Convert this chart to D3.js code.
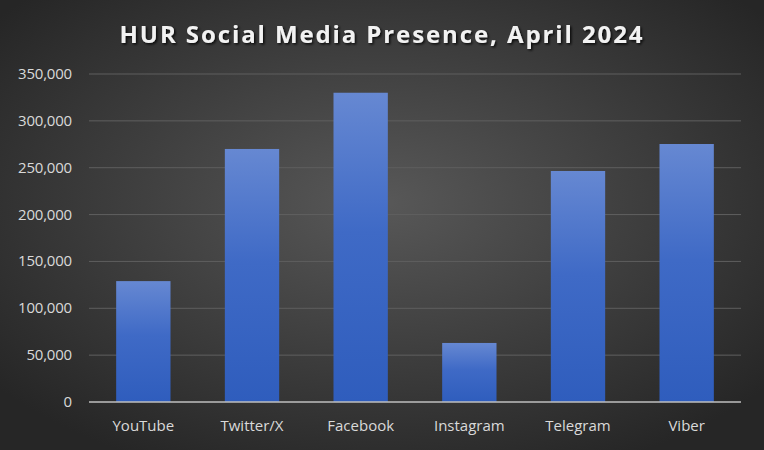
<!DOCTYPE html>
<html>
<head>
<meta charset="utf-8">
<script src="https://cdn.jsdelivr.net/npm/d3@7"></script>
<style>
  body { margin: 0; background: #333; }
  svg { display: block; }
</style>
</head>
<body>
<svg id="chart" width="764" height="450"></svg>
<script>
const platforms = ["YouTube", "Twitter/X", "Facebook", "Instagram", "Telegram", "Viber"];
const followers = [129000, 270000, 330000, 63000, 246500, 275300];
const yTicks = [0, 50000, 100000, 150000, 200000, 250000, 300000, 350000];

const svg = d3.select("#chart");
const W = 764, H = 450;
const m = { top: 74, right: 23, bottom: 48, left: 89 };

const defs = svg.append("defs");
const bg = defs.append("radialGradient").attr("id", "bg")
   .attr("cx", "50%").attr("cy", "45%").attr("r", "65%");
bg.append("stop").attr("offset", "0%").attr("stop-color", "#585858");
bg.append("stop").attr("offset", "100%").attr("stop-color", "#262626");

const barGrad = defs.append("linearGradient").attr("id", "bar")
   .attr("x1", 0).attr("y1", 0).attr("x2", 0).attr("y2", 1);
barGrad.append("stop").attr("offset", "0%").attr("stop-color", "#6688d2");
barGrad.append("stop").attr("offset", "45%").attr("stop-color", "#3f6ac6");
barGrad.append("stop").attr("offset", "100%").attr("stop-color", "#2f5dbd");

const shadow = defs.append("filter").attr("id", "shadow")
   .attr("x", "-10%").attr("y", "-30%").attr("width", "120%").attr("height", "160%");
shadow.append("feDropShadow").attr("dx", 1.5).attr("dy", 1.5).attr("stdDeviation", 1.2)
   .attr("flood-color", "#000").attr("flood-opacity", 0.8);

svg.append("rect").attr("width", W).attr("height", H).attr("fill", "url(#bg)");

const x = d3.scaleBand().domain(platforms).range([m.left, W - m.right]).paddingInner(0.5).paddingOuter(0.25);
const y = d3.scaleLinear().domain([0, 350000]).range([H - m.bottom, m.top]);

// gridlines
svg.append("g").selectAll("line").data(yTicks.slice(1)).join("line")
   .attr("x1", m.left).attr("x2", W - m.right)
   .attr("y1", d => y(d)).attr("y2", d => y(d))
   .attr("stroke", "#5f5f5f").attr("stroke-width", 1);

// y labels
const fmt = d3.format(",");
svg.append("g").selectAll("text").data(yTicks).join("text")
   .attr("x", 72).attr("y", d => y(d) + 5)
   .attr("text-anchor", "end")
   .attr("fill", "#d9d9d9")
   .style("font", "15px 'Open Sans', sans-serif")
   .style("letter-spacing", "-0.2px")
   .text(d => fmt(d));

// bars
svg.append("g").selectAll("rect").data(platforms).join("rect")
   .attr("x", d => x(d))
   .attr("y", (d, i) => y(followers[i]))
   .attr("width", x.bandwidth())
   .attr("height", (d, i) => y(0) - y(followers[i]))
   .attr("fill", "url(#bar)");

// x axis line
svg.append("line")
   .attr("x1", m.left).attr("x2", W - m.right)
   .attr("y1", y(0)).attr("y2", y(0))
   .attr("stroke", "#bfbfbf").attr("stroke-width", 1.5);

// x labels
svg.append("g").selectAll("text").data(platforms).join("text")
   .attr("x", d => x(d) + x.bandwidth() / 2)
   .attr("y", 431)
   .attr("text-anchor", "middle")
   .attr("fill", "#d9d9d9")
   .style("font", "15px 'Open Sans', sans-serif")
   .text(d => d);

// title
svg.append("text")
   .attr("x", 382).attr("y", 43)
   .attr("text-anchor", "middle")
   .attr("fill", "#f2f2f2")
   .attr("filter", "url(#shadow)")
   .style("font", "bold 24px 'Open Sans', sans-serif")
   .style("letter-spacing", "1.9px")
   .text("HUR Social Media Presence, April 2024");
</script>
</body>
</html>
